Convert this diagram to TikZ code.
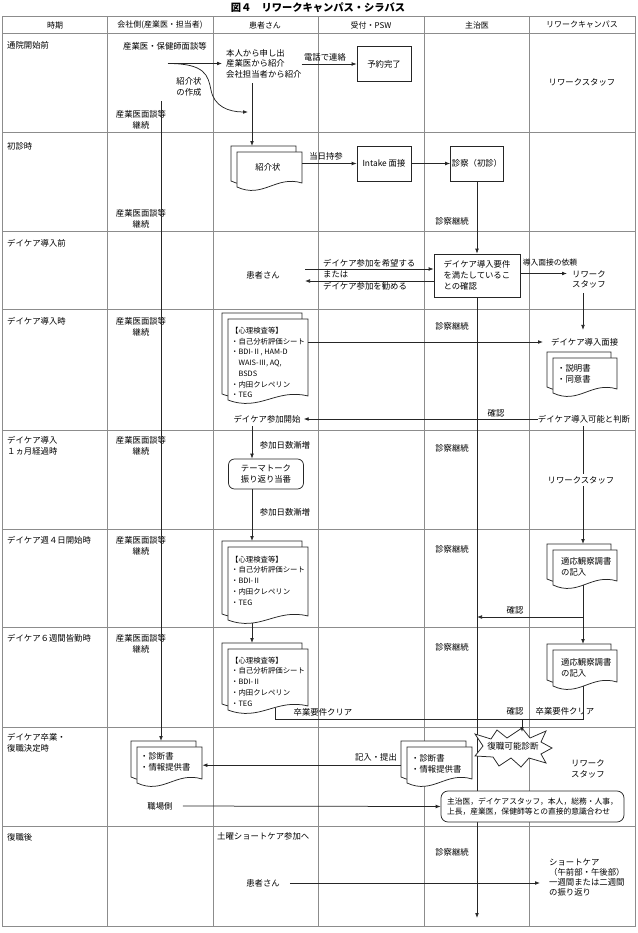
\documentclass[tikz,border=0pt]{standalone}
\usepackage{fontspec}
\newfontfamily\jp{Noto Sans CJK JP}
\usetikzlibrary{arrows.meta,calc}
\tikzset{
  gridline/.style={draw=black!45, line width=0.7bp},
  conn/.style={draw=black!85, line width=0.75bp},
  arr/.style={conn, -{Latex[length=5bp,width=3.8bp]}},
  txt/.style={inner sep=0pt, align=center},
  ltxt/.style={inner sep=0pt, align=left, anchor=west},
  wtxt/.style={txt, fill=white, inner xsep=1.5bp, inner ysep=2bp},
  bx/.style={draw=black!85, line width=0.75bp, fill=white, inner sep=0pt, align=center},
  rbx/.style={bx, rounded corners=6bp},
  docpage/.style={draw=black!85, line width=0.75bp, fill=white},
  hdr/.style={txt, font=\jp\fontsize{8}{10}\selectfont},
  doctxt/.style={ltxt, font=\jp\fontsize{7.4}{10.8}\selectfont},
}
\newcommand{\docshape}[4]{%
  \filldraw[docpage] ({#1},{#2}) -- ({#1+#3},{#2}) -- ({#1+#3},{#2+#4-4})
    .. controls ({#1+0.6*#3},{#2+#4-12}) and ({#1+0.4*#3},{#2+#4+12}) .. ({#1},{#2+#4}) -- cycle;}
\newcommand{\mdoc}[5]{%
  \docshape{#2-6}{#3-6}{#4}{#5}%
  \docshape{#2}{#3}{#4}{#5}%
  \node[inner sep=0pt, minimum width=#4bp, minimum height=#5bp, anchor=north west] (#1) at (#2,#3) {};%
  \node[inner sep=0pt, minimum width=#4bp, minimum height=#5bp, anchor=north west] (#1b) at ({#2-6},{#3-6}) {};}
\begin{document}
\begin{tikzpicture}[x=1bp,y=-1bp, font=\jp\fontsize{8.4}{10.8}\selectfont]
\useasboundingbox (0,0) rectangle (638,933);
% title
\node[txt, font=\jp\bfseries\fontsize{10.3}{12}\selectfont] (title) at (318,7.5) {図４　リワークキャンパス・シラバス};
% grid
\draw[gridline] (2,16) rectangle (635,926);
\foreach \yy in {33,132,231,309,430,529,627,727,826} \draw[gridline] (2,\yy) -- (635,\yy);
\foreach \xx in {107,213,318,424,529} \draw[gridline] (\xx,16) -- (\xx,926);
% headers
\node[hdr] (h1) at (55,25) {時期};
\node[hdr] (h2) at (160,25) {会社側(産業医・担当者)};
\node[hdr] (h3) at (265,25) {患者さん};
\node[hdr] (h4) at (371,25) {受付・PSW};
\node[hdr] (h5) at (477,25) {主治医};
\node[hdr] (h6) at (582,25) {リワークキャンパス};
% row labels
\node[ltxt] (r1) at (7,45) {通院開始前};
\node[ltxt] (r2) at (7,146) {初診時};
\node[ltxt] (r3) at (7,243) {デイケア導入前};
\node[ltxt] (r4) at (7,321) {デイケア導入時};
\node[ltxt] (r5) at (7,445.5) {デイケア導入\\１ヵ月経過時};
\node[ltxt] (r6) at (7,540) {デイケア週４日開始時};
\node[ltxt] (r7) at (7,638) {デイケア６週間皆勤時};
\node[ltxt] (r8) at (7,743) {デイケア卒業・\\復職決定時};
\node[ltxt] (r9) at (7,837) {復職後};
% boxes
\node[bx, minimum width=54bp, minimum height=35bp] (yoyaku) at (384,64) {予約完了};
\node[bx, minimum width=54bp, minimum height=35bp] (intake) at (384,163.5) {Intake 面接};
\node[bx, minimum width=53bp, minimum height=35bp] (shinsatsu) at (477,163.5) {診察（初診）};
\node[bx, minimum width=86bp, minimum height=43bp, align=left] (youken) at (477,275.5) {デイケア導入要件\\を満たしているこ\\との確認};
\coordinate (mend) at (477,918);
\draw[arr] (youken.south) -- (youken.south |- mend);
% documents
\mdoc{d1}{237}{152}{65}{35}
\mdoc{d2}{228}{319}{80}{81}
\mdoc{d3}{553}{358}{64}{35}
\mdoc{d4}{228}{547}{80}{73}
\mdoc{d5}{553}{550}{64}{35}
\mdoc{d6}{228}{649}{80}{61}
\mdoc{d7}{553}{650}{64}{36}
\mdoc{d8}{137}{747}{65}{36}
\mdoc{d9}{407}{747}{65}{36}
% star
\coordinate (sc) at (513,747);
\begin{scope}[shift={(sc)}]
\filldraw[docpage] (-38,-13) -- (-22,-8) -- (-16,-17) -- (-6,-9) -- (9,-19) -- (17,-9) -- (33,-16) -- (28,-5) -- (39,1) -- (28,7) -- (33,16) -- (16,11) -- (8,20) -- (-2,11) -- (-14,19) -- (-20,10) -- (-38,9) -- (-30,-1) -- cycle;
\end{scope}
\node[txt, font=\jp\fontsize{8.6}{11}\selectfont] (star) at (513,746.5) {復職可能診断};
\node[rbx, rounded corners=7bp, minimum width=183bp, minimum height=31bp, align=left, font=\jp\fontsize{7.8}{10.8}\selectfont] (godo) at (532.5,806.5) {主治医，デイケアスタッフ，本人，総務・人事，\\上長，産業医，保健師等との直接的意識合わせ};
\node[rbx, minimum width=75bp, minimum height=30bp] (theme) at (266,474) {テーマトーク\\振り返り当番};
% document texts
\node[txt] (d1t) at (268,167) {紹介状};
\node[doctxt] (d2t) at (231,362.5) {【心理検査等】\\・自己分析評価シート\\・BDI-Ⅱ, HAM-D\\\hspace*{1em}WAIS-Ⅲ, AQ,\\\hspace*{1em}BSDS\\・内田クレペリン\\・TEG};
\node[ltxt] (d3t) at (557,373.5) {・説明書\\・同意書};
\node[doctxt] (d4t) at (231,580.5) {【心理検査等】\\・自己分析評価シート\\・BDI-Ⅱ\\・内田クレペリン\\・TEG};
\node[ltxt] (d5t) at (561,566.5) {適応観察調書\\の記入};
\node[doctxt] (d6t) at (231,681.5) {【心理検査等】\\・自己分析評価シート\\・BDI-Ⅱ\\・内田クレペリン\\・TEG};
\node[ltxt] (d7t) at (561,667.5) {適応観察調書\\の記入};
\node[ltxt] (d8t) at (140,762) {・診断書\\・情報提供書};
\node[ltxt] (d9t) at (411,763.5) {・診断書\\・情報提供書};
% company column
\node[txt] (c1) at (165,46) {産業医・保健師面談等};
\node[txt] (shokai) at (189,87) {紹介状\\の作成};
\node[txt] (c2) at (141,119.5) {産業医面談等\\継続};
\node[txt] (c3) at (141,218.5) {産業医面談等\\継続};
\node[txt] (c4) at (141,326.5) {産業医面談等\\継続};
\node[txt] (c5) at (141,445.5) {産業医面談等\\継続};
\node[txt] (c6) at (141,545.5) {産業医面談等\\継続};
\node[txt] (c7) at (141,643.5) {産業医面談等\\継続};
\node[txt] (shokuba) at (160,806) {職場側};
% patient column
\node[ltxt, font=\jp\fontsize{8.4}{10.5}\selectfont] (p1) at (226,63.5) {本人から申し出\\産業医から紹介\\会社担当者から紹介};
\node[txt] (p3) at (263,275) {患者さん};
\node[txt] (kaishi) at (267,419) {デイケア参加開始};
\node[txt] (z1) at (285,445) {参加日数漸増};
\node[txt] (z2) at (285,512) {参加日数漸増};
\node[txt] (sotsu1) at (323,712) {卒業要件クリア};
\node[ltxt] (dsat) at (217,836) {土曜ショートケア参加へ};
\node[txt] (p9) at (263,883) {患者さん};
% reception column
\node[txt] (denwa) at (325,57) {電話で連絡};
\node[txt] (toujitsu) at (326,156) {当日持参};
\node[ltxt, font=\jp\fontsize{8.4}{11.5}\selectfont] (dcl) at (323,274.5) {デイケア参加を希望する\\または\\デイケア参加を勧める};
\node[txt] (kinyu) at (376,757) {記入・提出};
% doctor column
\node[txt] (s1) at (452,221) {診察継続};
\node[txt] (s2) at (452,326) {診察継続};
\node[txt] (s3) at (452,448) {診察継続};
\node[txt] (s4) at (452,549) {診察継続};
\node[txt] (s5) at (452,647) {診察継続};
\node[txt] (s6) at (452,852) {診察継続};
\node[txt] (k1) at (496,413) {確認};
\node[txt] (k2) at (515,610) {確認};
\node[txt] (k3) at (515,711) {確認};
% rework column
\node[txt] (rw1) at (582,82) {リワークスタッフ};
\node[txt, font=\jp\fontsize{7.8}{10}\selectfont] (irai) at (550,263) {導入面接の依頼};
\node[ltxt] (rs1) at (572,279.5) {リワーク\\スタッフ};
\node[ltxt] (dcint) at (551,342) {デイケア導入面接};
\node[txt] (kanou) at (584,419) {デイケア導入可能と判断};
\node[txt] (sotsu2) at (565,711) {卒業要件クリア};
\node[ltxt] (rs3) at (571,769) {リワーク\\スタッフ};
\node[ltxt, font=\jp\fontsize{8.4}{10.3}\selectfont] (sc9) at (549,877.5) {ショートケア\\（午前部・午後部）\\一週間または二週間\\の振り返り};
% connectors
\coordinate (cs) at (168,63.5);
\coordinate (ce) at (248,112);
\coordinate (pv) at (252,83);
\coordinate (cv) at (161,101);
\coordinate (dca) at (305,269);
\coordinate (dcb) at (305,281);
\coordinate (px) at (252,0);
\coordinate (rx) at (583,0);
\coordinate (k6) at (583,617);
\coordinate (gl) at (275,719);
\coordinate (jn) at (522,719);
\coordinate (stop) at (522,732);
\draw[arr, shorten >=4bp] (cs) -- (cs -| p1.west);
\draw[arr] (cs) .. controls (205,63.5) and (208,75) .. (211,90) .. controls (214,106) and (228,112) .. (ce);
\draw[arr] (pv) -- (pv |- d1b.north);
\draw[arr] (cv) -- (cv |- d8b.north);
\draw[arr] (p1.east |- yoyaku.west) -- (yoyaku.west);
\draw[arr] (d1.east |- intake.west) -- (intake.west);
\draw[arr] (intake.east) -- (shinsatsu.west);
\draw[arr] (shinsatsu.south) -- (youken.north);
\draw[arr] (dca) -- (dca -| youken.west);
\draw[arr] (dcb -| youken.west) -- (dcb);
\draw[arr, shorten >=5bp] ($(youken.east)+(0,-2)$) -- ($(youken.east -| rs1.west)+(0,-2)$);
\draw[arr, shorten <=4bp] (rs1.south -| rx) -- ($(rx |- dcint.north)+(0,-8)$);
\draw[arr, shorten >=8bp] (d2.east |- dcint.west) -- (dcint.west);
\draw[arr, shorten >=3bp] (kanou.west) -- (kaishi.east);
\draw[arr, shorten <=3bp] (kaishi.south -| px) -- (theme.north -| px);
\draw[arr] (theme.south -| px) -- (px |- d4b.north);
\draw[arr] ($(d4.south -| px)+(0,3)$) -- (px |- d6b.north);
\draw[arr, shorten <=3bp] (kanou.south -| rx) -- (rx |- d5b.north);
\node[wtxt] (rs2) at (581,480) {リワークスタッフ};
\draw[conn] (d5.south -| rx) -- (k6);
\draw[arr] (k6) -- (k6 -| shinsatsu.south);
\draw[arr] (k6) -- (rx |- d7b.north);
\draw[conn] (d7.south -| rx) -- (rx |- gl) -- (gl) -- ($(gl |- d6.south)+(0,-2)$);
\draw[arr] (jn) -- (stop);
\draw[arr] (d9b.west |- d9.west) -- (d8.east);
\draw[arr, shorten <=10bp] (shokuba.east) -- (godo.west);
\draw[arr, shorten <=10bp, shorten >=9bp] (p9.east) -- (p9.east -| sc9.west);
\end{tikzpicture}
\end{document}
